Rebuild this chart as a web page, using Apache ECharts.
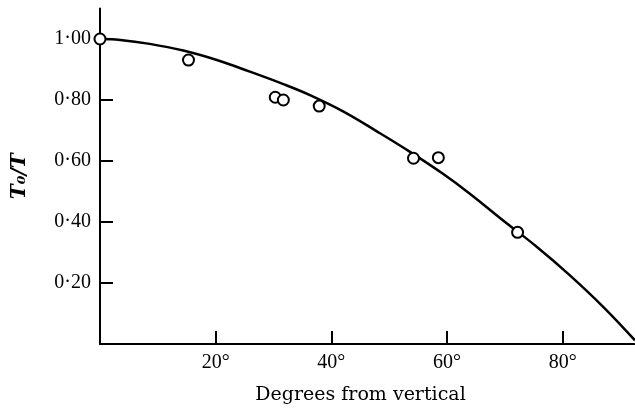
<!DOCTYPE html>
<html>
<head>
<meta charset="utf-8">
<script src="https://cdn.jsdelivr.net/npm/echarts@6/dist/echarts.min.js"></script>
<style>
  html, body { margin: 0; padding: 0; background: #fff; }
  #chart { width: 635px; height: 413px; }
</style>
</head>
<body>
<div id="chart"></div>
<script>
// fitted curve (degrees, T0/T)
let curveDeg = [0, 3.5, 8.6, 14.4, 20.2, 25.9, 31.7, 36.3, 42.1, 47.8, 53.6, 59.3, 64.0, 69.7, 75.5, 81.2, 87.0, 92.5]
let curveVal = [1.000, 0.997, 0.984, 0.962, 0.931, 0.893, 0.852, 0.816, 0.762, 0.698, 0.630, 0.558, 0.492, 0.405, 0.319, 0.226, 0.122, 0.012]
// measured points
let pointDeg = [0, 15.3, 30.3, 31.7, 37.9, 54.2, 58.5, 72.2]
let pointVal = [1.00, 0.931, 0.809, 0.800, 0.780, 0.609, 0.611, 0.366]
// tick labels
let xTicks = [20, 40, 60, 80]
let yTicks = [0.2, 0.4, 0.6, 0.8, 1.0]

let chart = echarts.init(document.getElementById('chart'))

let numFont = 'Liberation Serif'
let options = {
  animation: false,
  backgroundColor: '#fff',
  grid: {
    left: 100,
    right: 0,
    top: 8.5,
    bottom: 69
  },
  xAxis: {
    type: 'value',
    min: 0,
    max: 92.5,
    splitLine: { show: false },
    axisLine: { lineStyle: { color: '#000', width: 2 } },
    axisTick: {
      inside: true,
      length: 13,
      customValues: xTicks,
      lineStyle: { color: '#000', width: 2 }
    },
    axisLabel: {
      customValues: xTicks,
      margin: 9,
      color: '#000',
      fontFamily: numFont,
      fontSize: 20,
      formatter: v => v + '°'
    },
    name: 'Degrees from vertical',
    nameLocation: 'middle',
    nameGap: 42,
    nameTextStyle: {
      color: '#000',
      fontFamily: 'DejaVu Serif',
      fontSize: 19,
      padding: [0, 14, 0, 0]
    }
  },
  yAxis: {
    type: 'value',
    min: 0,
    max: 1.1,
    splitLine: { show: false },
    axisLine: { lineStyle: { color: '#000', width: 2 } },
    axisTick: {
      inside: true,
      length: 13,
      customValues: yTicks,
      lineStyle: { color: '#000', width: 2 }
    },
    axisLabel: {
      customValues: yTicks,
      margin: 9,
      color: '#000',
      fontFamily: numFont,
      fontSize: 20,
      formatter: v => v.toFixed(2).replace('.', '·')
    },
    name: 'T₀/T',
    nameLocation: 'middle',
    nameRotate: 90,
    nameGap: 70,
    nameTextStyle: {
      color: '#000',
      fontFamily: 'DejaVu Serif',
      fontStyle: 'italic',
      fontWeight: 'bold',
      fontSize: 20
    }
  },
  series: [
    {
      type: 'line',
      data: curveDeg.map((d, i) => [d, curveVal[i]]),
      smooth: 0.4,
      showSymbol: false,
      lineStyle: { color: '#000', width: 2.5 },
      z: 2
    },
    {
      type: 'scatter',
      data: pointDeg.map((d, i) => [d, pointVal[i]]),
      symbol: 'circle',
      symbolSize: 11,
      clip: false,
      itemStyle: { color: '#fff', borderColor: '#000', borderWidth: 2, opacity: 1 },
      z: 3
    }
  ]
}
chart.setOption(options)
</script>
</body>
</html>
